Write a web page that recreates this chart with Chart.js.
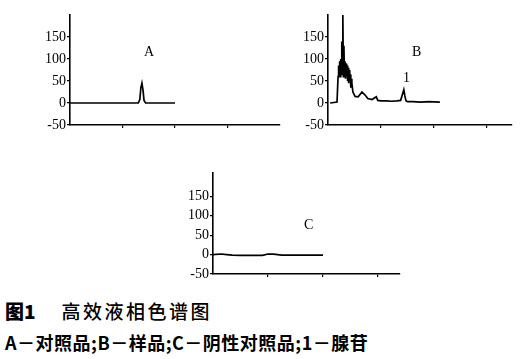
<!DOCTYPE html>
<html>
<head>
<meta charset="utf-8">
<script src="https://cdn.jsdelivr.net/npm/chart.js@4"></script>
<style>
  body { margin: 0; background: #fff; width: 521px; height: 359px; position: relative; overflow: hidden; }
  canvas { position: absolute; }
  .lbl { position: absolute; font-family: "Liberation Serif", serif; font-size: 14px; color: #000; line-height: 14px; }
  .cap { position: absolute; left: 5px; font-family: "Noto Sans CJK SC", sans-serif; color: #000; white-space: nowrap; }
</style>
</head>
<body>
<canvas id="chartA" width="260" height="130" style="left:30px;top:5px"></canvas>
<canvas id="chartB" width="234" height="130" style="left:288px;top:5px"></canvas>
<canvas id="chartC" width="237" height="121" style="left:173px;top:163px"></canvas>

<div class="lbl" style="left:144px;top:45px">A</div>
<div class="lbl" style="left:412px;top:45px">B</div>
<div class="lbl" style="left:403px;top:71px">1</div>
<div class="lbl" style="left:304px;top:218px">C</div>

<div class="cap" style="top:301px;font-size:19px;line-height:20px">
  <b style="font-weight:900">图1</b><span style="display:inline-block;width:26px"></span><span style="font-weight:500;letter-spacing:2.5px">高效液相色谱图</span>
</div>
<div class="cap" style="top:333px;font-size:18px;line-height:19px;font-weight:700;letter-spacing:0.5px">A－对照品;B－样品;C－阴性对照品;1－腺苷</div>

<script>
// ---- 数据 (x: 保留时间刻度单位, y: 响应值) ----
const tempoA = [0, 1.25, 1.30, 1.33, 1.35, 1.37, 1.39, 1.41, 1.44, 1.50, 2.0];
const sinalA = [0, 0, 0, 8, 35, 45, 30, 6, 0, 0, 0];

const tempoB = [0.04, 0.17, 0.19, 0.20, 0.21, 0.22, 0.23, 0.24, 0.25, 0.26, 0.27, 0.28, 0.29, 0.30,
  0.31, 0.32, 0.33, 0.34, 0.35, 0.36, 0.37, 0.38, 0.39, 0.40, 0.41, 0.42, 0.43, 0.44, 0.45, 0.47,
  0.51, 0.57, 0.64, 0.70, 0.75, 0.83, 0.91, 0.94,
  1.00, 1.10, 1.20, 1.30, 1.37, 1.40, 1.43, 1.45, 1.47, 1.50, 1.60, 1.75, 1.90, 2.11];
const sinalB = [0, 2, 60, 85, 70, 95, 60, 100, 65, 140, 70, 200, 60, 130,
  65, 95, 55, 90, 60, 85, 50, 80, 45, 75, 50, 65, 35, 55, 45, 25,
  15, 14, 25, 18, 10, 8, 14, 6,
  5, 5, 4, 5, 6, 18, 30, 16, 5, 3, 3, 2, 3, 2];

const tempoC = [0, 0.15, 0.25, 0.35, 0.5, 0.9, 1.0, 1.1, 1.25, 1.6, 2.0];
const sinalC = [0, 1.5, 0, -1.5, -2, -2, 1.5, 1, -1.5, -1.5, -1.5];

const ticksY = [-50, 0, 50, 100, 150];
const ticksX = [1, 2, 3];

// ===== FUNÇÃO: CRIAR CROMATOGRAMA =====
function criarGrafico(id, tempo, sinal, xMax, yMax, padTop) {
  const ctx = document.getElementById(id).getContext("2d");
  return new Chart(ctx, {
    type: "line",
    data: {
      datasets: [{
        data: tempo.map((t, i) => ({ x: t, y: sinal[i] })),
        borderColor: "#000",
        borderWidth: 1.7,
        pointRadius: 0,
        tension: 0
      }]
    },
    options: {
      responsive: false,
      animation: false,
      devicePixelRatio: 1,
      layout: { padding: { top: padTop, right: 10, left: 0, bottom: 0 } },
      plugins: { legend: { display: false }, tooltip: { enabled: false } },
      scales: {
        x: {
          type: "linear",
          min: 0,
          max: xMax,
          afterBuildTicks: s => { s.ticks = ticksX.map(v => ({ value: v })); },
          ticks: { display: false },
          grid: { drawOnChartArea: false, color: "#000", tickLength: 3, lineWidth: 1.2 },
          border: { color: "#000", width: 1.6 },
          afterFit: s => { s.height = 10; }
        },
        y: {
          min: -50,
          max: yMax,
          afterBuildTicks: s => { s.ticks = ticksY.map(v => ({ value: v })); },
          ticks: {
            color: "#000",
            padding: 1,
            font: { family: "Liberation Serif", size: 14 }
          },
          grid: { drawOnChartArea: false, color: "#000", tickLength: 3, lineWidth: 1.2 },
          border: { color: "#000", width: 1.6 },
          afterFit: s => { s.width = 40; }
        }
      }
    }
  });
}

criarGrafico("chartA", tempoA, sinalA, 4, 200, 10);
criarGrafico("chartB", tempoB, sinalB, 3.47, 200, 10);
criarGrafico("chartC", tempoC, sinalC, 3.4, 210, 10);
</script>
</body>
</html>
